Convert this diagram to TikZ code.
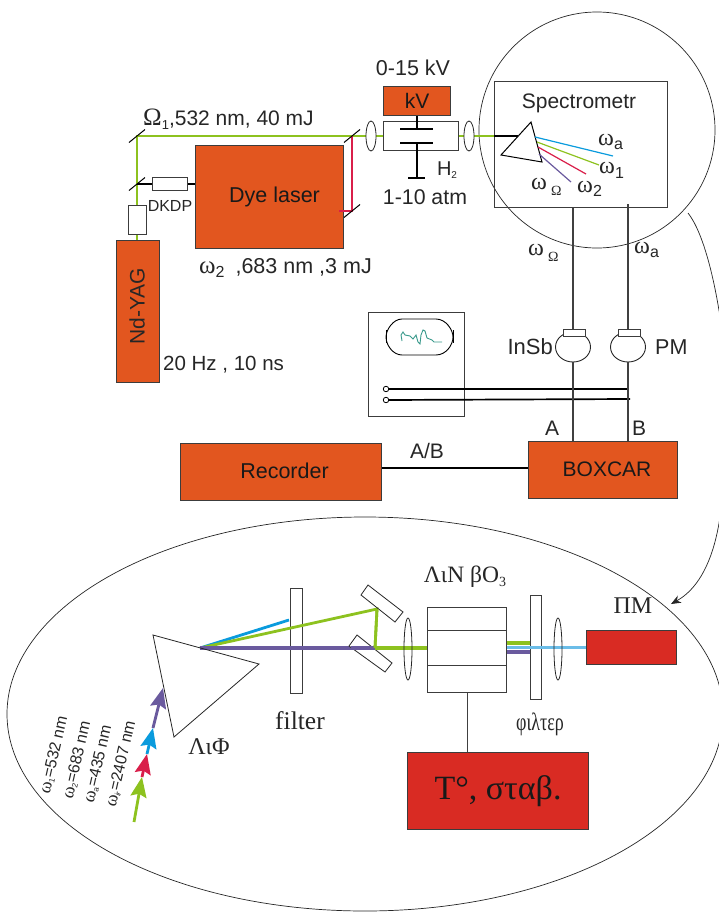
\documentclass[tikz,border=0pt]{standalone}
\usepackage{fontspec}
\setmainfont{Liberation Sans}
\newfontfamily\gk{Liberation Serif}
\newfontfamily\sansf{Liberation Sans}
\usetikzlibrary{shapes.geometric,arrows.meta,calc}
\definecolor{orangeb}{HTML}{E2561F}
\definecolor{redb}{HTML}{D92B23}
\definecolor{beamgreen}{HTML}{8DC21F}
\definecolor{beamblue}{HTML}{0A9BDD}
\definecolor{beamlight}{HTML}{6BBDE8}
\definecolor{beamred}{HTML}{D91F4A}
\definecolor{beampurple}{HTML}{6A5A9E}
\definecolor{edgegray}{HTML}{3C3C3C}
\definecolor{trace}{HTML}{3A9A8C}
\newcommand{\fs}[1]{\fontsize{#1}{#1}\selectfont}
\tikzset{
  box/.style={draw=edgegray,line width=1pt,inner sep=0pt,anchor=north west},
  obox/.style={box,fill=orangeb,text=black!90},
  rbox/.style={box,fill=redb,text=black!90},
  lens/.style={draw=black!85,ellipse,inner sep=0pt,line width=0.8pt},
  txt/.style={inner sep=0pt,text=black!85},
  wire/.style={draw=black!75,line width=1.3pt},
  thick wire/.style={draw=black,line width=1.7pt},
  mirror/.style={draw=black,line width=1pt},
  thin part/.style={draw=black!85,line width=0.7pt},
  head/.style={-{Stealth[length=20pt,width=16pt,inset=3pt]},line width=2.8pt},
  serif/.style={txt,font=\gk},
  lowbeam/.style={line width=2.8pt},
  flatbeam/.style={line width=3.3pt}
}
\begin{document}
\begin{tikzpicture}[x=1pt,y=-1pt]
\clip (0,0) rectangle (719,913);
% outlines
\draw[thin part] (597,130) circle [radius=118];
\draw[thin part] (365,714) ellipse [x radius=358,y radius=197];
\coordinate (a1) at (688,213);
\coordinate (a3) at (671,604);
\draw[thin part] (a1) .. controls (703,232) and (716,280) .. (724,345);
\draw[thin part,-{Stealth[length=10pt,width=8pt]}] (722,500) .. controls (718,545) and (705,585) .. (a3);

% --- upper boxes
\coordinate (m1) at (137,136);
\coordinate (m2) at (137,184);
\coordinate (m3) at (352,136);
\coordinate (m4) at (352,211);
\coordinate (r1) at (339,211);
\node[obox,minimum width=43pt,minimum height=142pt] (yag) at (116,240) {};
\node[txt,rotate=90,font=\fs{21}] at (137,306) {Nd-YAG};
\node[obox,minimum width=148pt,minimum height=103pt,font=\fs{21.5}] (dye) at (195,145) {\hspace{10pt}\raisebox{3pt}{Dye laser}};
\node[box,minimum width=75pt,minimum height=29pt] (cell) at (383,121) {};
\node[obox,minimum width=67pt,minimum height=29pt,font=\fs{21}] (kv) at (383,86) {kV};
\node[box,minimum width=173pt,minimum height=126pt] (spec) at (494,81) {};
\coordinate (prin) at (518,136);

\draw[beamgreen,line width=1.3pt] (yag.north -| m1) -- (m1) -- (m3) -- (cell.west |- m3);
\draw[beamgreen,line width=1.3pt] (cell.east |- m3) -- (spec.west |- m3);
\node[box,fill=white,minimum width=18pt,minimum height=29pt] (yagc) at (128,205) {};
\node[box,fill=white,minimum width=35pt,minimum height=13pt] (dkdp) at (152,177) {};
\node[txt,font=\fs{16}] at (170,206) {DKDP};
\node[lens,fill=white,minimum width=10pt,minimum height=30pt] (l1) at (371,136) {};
\node[lens,fill=white,minimum width=10pt,minimum height=30pt] (l2) at (469,136) {};
\draw[thick wire] (spec.west |- prin) -- (prin);
\draw[beamred,line width=1.5pt] (m3) -- (m4) -- (r1);
\draw[thick wire] (m2) -- (dkdp.west);
\draw[thick wire,line width=1.2pt] (dkdp.east) -- (dye.west |- dkdp.east);
\foreach \m in {m1,m2,m3,m4}{
  \draw[mirror] ($(\m)+(-8,6.5)$) -- ($(\m)+(8,-6.5)$);
}
% capacitor
\coordinate (c1) at (417,129);
\coordinate (c2) at (417,143);
\coordinate (c3) at (417,178);
\draw[thick wire,line width=1.4pt] (400,129) -- (433,129);
\draw[thick wire,line width=1.4pt] (400,143) -- (433,143);
\draw[thick wire,line width=1.4pt] (kv.south -| c1) -- (c1);
\draw[thick wire,line width=1.4pt] (c2) -- (c3);
\draw[thick wire,line width=1.4pt] (408,178) -- (425,178);
\node[txt,font=\fs{21.5}] at (413,68) {0-15 kV};
\node[txt,font=\fs{20}] at (447,170) {H\raisebox{-3pt}{\fs{10}2}};
\node[txt,font=\fs{21.3}] at (425,197) {1-10 atm};
\node[txt,anchor=west,font=\fs{21}] at (143,119) {{\gk\fs{25}Ω}\raisebox{-4pt}{\fs{13}1},532 nm, 40 mJ};
\node[txt,anchor=west,font=\fs{21.5}] at (199,268) {{\gk\fs{25}ω}\raisebox{-4pt}{\fs{16}2}\hspace{11pt},683 nm ,3 mJ};
\node[txt,anchor=west,font=\fs{20.5}] at (163,365) {20 Hz , 10 ns};

% spectrometer
\node[txt,font=\fs{21}] at (579,103) {Spectrometr};
\coordinate (p1) at (531,122);
\coordinate (p2) at (501,155);
\coordinate (p3) at (542,162);
\draw[mirror,fill=white] (p1) -- (p2) -- (p3) -- cycle;
\draw[beamblue,line width=1.2pt] (535,137) -- (613,156);
\draw[beamgreen,line width=1.2pt] (537,142) -- (599,165);
\draw[beamred,line width=1.2pt] (538,147) -- (586,174);
\draw[beampurple,line width=1.2pt] (539,154) -- (571,182);
\node[serif,anchor=west,font=\gk\fs{24}] at (598,142) {ω\raisebox{-4pt}{\fs{16}\sansf a}};
\node[serif,anchor=west,font=\gk\fs{24}] at (599,170) {ω\raisebox{-5pt}{\fs{16}\sansf 1}};
\node[serif,anchor=west,font=\gk\fs{24}] at (577,189) {ω\raisebox{-4pt}{\fs{16}\sansf 2}};
\node[serif,anchor=west,font=\gk\fs{24}] at (531,187) {ω\hspace{4pt}\raisebox{-6pt}{\fs{14}Ω}};
\node[serif,anchor=west,font=\gk\fs{24}] at (528,253) {ω\hspace{4pt}\raisebox{-6pt}{\fs{14}Ω}};
\node[serif,anchor=west,font=\gk\fs{24}] at (634,250) {ω\raisebox{-4pt}{\fs{16}\sansf a}};

% detectors
\node[obox,minimum width=149pt,minimum height=57pt,font=\fs{21}] (boxcar) at (528,441) {\hspace{8pt}\raisebox{1pt}{BOXCAR}};
\node[obox,minimum width=201pt,minimum height=57pt,font=\fs{21.5}] (rec) at (180,443) {\hspace{7pt}\raisebox{2pt}{Recorder}};
\node[draw=black!85,line width=0.9pt,ellipse,fill=white,minimum width=35pt,minimum height=30pt,inner sep=0pt] (insb) at (573,347) {};
\node[draw=black!85,line width=0.9pt,ellipse,fill=white,minimum width=35pt,minimum height=30pt,inner sep=0pt] (pm) at (628,347) {};
\node[box,fill=white,minimum width=22pt,minimum height=7pt] (insbw) at (563,329) {};
\node[box,fill=white,minimum width=22pt,minimum height=7pt] (pmw) at (618,329) {};
\draw[wire] (spec.south -| insb) -- (insbw.north -| insb);
\draw[wire] (628,204) -- (pmw.north -| 628,0);
\node[box,minimum width=96pt,minimum height=104pt] (scope) at (368,312) {};
\node[draw=black,line width=0.8pt,minimum width=5.5pt,circle,inner sep=0pt] (o1) at (386,389) {};
\node[draw=black,line width=0.8pt,minimum width=5.5pt,circle,inner sep=0pt] (o2) at (386,400) {};
\coordinate (t1) at (628,389);
\coordinate (t2) at (630,399);
\draw[thick wire] (o1) -- (t1);
\draw[thick wire] (o2) -- (t2);
\draw[wire] (insb.south) -- (insb.south |- boxcar.north);
\draw[wire] (pm.south) -- (pm.south |- boxcar.north);
\draw[thick wire] (rec.east |- 0,468) -- (boxcar.west |- 0,468);
\node[txt,font=\fs{21}] at (427,451) {A/B};
\node[txt,font=\fs{21}] at (552,428) {A};
\node[txt,font=\fs{21}] at (639,428) {B};
\node[txt,anchor=east,font=\fs{22}] at (553,347) {InSb};
\node[txt,anchor=west,font=\fs{21.5}] at (655,347) {PM};
% oscilloscope screen
\draw[black,line width=0.9pt] (402,319) -- (436,319) .. controls (446,319) and (453,330) .. (453,337) .. controls (453,345) and (446,355) .. (436,355) -- (402,355) .. controls (393,355) and (386,345) .. (386,337) .. controls (386,330) and (393,319) .. (402,319) -- cycle;
\draw[black,line width=1pt] (386,330) -- (386,343);
\draw[black,line width=1pt] (453,330) -- (453,343);
\draw[trace,line width=0.9pt] (402,341) -- (401,335) -- (403,332) -- (405,335) -- (410,336) -- (413,339) -- (416,335) -- (418,342) -- (420,344) -- (421,335) -- (423,330) -- (425,331) -- (427,338) -- (432,340) -- (434,342) -- (436,342) -- (442,342);

% --- lower part
\coordinate (b0) at (200,648);
\coordinate (bm1) at (377,609);
\coordinate (bm2) at (375,648);
\node[box,line width=0.9pt,minimum width=79pt,minimum height=85pt] (cr) at (427,607) {};
\node[box,line width=0.9pt,minimum width=79pt,minimum height=35pt] (cri) at (427,630) {};
\node[box,line width=0.9pt,minimum width=12pt,minimum height=105pt] (f1) at (290,588) {};
\node[box,line width=0.9pt,minimum width=11pt,minimum height=104pt] (f2) at (530,595) {};
\node[rbox,minimum width=90pt,minimum height=34pt] (pmr) at (586,630) {};
\node[rbox,minimum width=181pt,minimum height=77pt,font=\gk\fs{34}] (tb) at (407,752) {T°, σταβ.};
\draw[wire,line width=0.9pt] (cr.south -| 467,0) -- (tb.north -| 467,0);

\coordinate (bb) at (289,620);
\draw[beamblue,lowbeam] (b0) -- (bb);
\draw[beamgreen,lowbeam] (b0) -- (bm1) -- (bm2);
\draw[beampurple,flatbeam] (b0) -- (bm2);
\draw[beamgreen,flatbeam] (cri.east |- 0,643) -- (f2.west |- 0,643);
\draw[beampurple,flatbeam] (cri.east |- 0,652) -- (f2.west |- 0,652);
\draw[beamlight,flatbeam] (cri.east |- 0,647.5) -- (pmr.west |- 0,647.5);

\coordinate (q1) at (153,635);
\coordinate (q2) at (259,664);
\coordinate (q3) at (174,737);
\draw[thin part,line width=0.8pt] (q1) -- (q2) -- (q3) -- cycle;
\draw[thin part,line width=0.8pt] (368,585) -- (403,612) -- (395,622) -- (361,595) -- cycle;
\draw[thin part,line width=0.8pt,fill=white] (357,635) -- (392,663) -- (385,672) -- (349,646) -- cycle;
\draw[beampurple,flatbeam] (351,648) -- (bm2);
\draw[beamgreen,lowbeam] (bm1) -- (bm2);
\draw[beamgreen,flatbeam] (bm2) -- (cri.west |- bm2);
\node[lens,minimum width=8pt,minimum height=62pt] (l3) at (408,649) {};
\node[lens,minimum width=8pt,minimum height=62pt] (l4) at (558,649) {};
\node[serif,font=\gk\fs{25.5}] at (300,721) {filter};
\node[serif,font=\gk\fs{24}] at (209,747) {ΛιΦ};
\node[serif,font=\gk\fs{23.5}] at (465,577) {ΛιΝ βΟ\raisebox{-4pt}{\fs{14}3}};
\node[serif,font=\gk\fs{24}] at (633,606) {ΠΜ};
\node[serif,font=\gk\fs{25},xscale=0.72] at (540,724) {φιλτερ};

% incoming arrows
\coordinate (s0) at (134,822);
\coordinate (s1) at (142,777);
\coordinate (s2) at (147,754);
\coordinate (s3) at (153,728);
\coordinate (s4) at (163,688);
\draw[head,beampurple] (s3) -- (s4);
\draw[head,beamblue] (s2) -- (s3);
\draw[head,beamred] (s1) -- (s2);
\draw[head,beamgreen] (s0) -- (s1);

\node[txt,rotate=77,font=\fs{16}] at (54,755) {{\gk\fs{18}ω}\raisebox{-2pt}{\fs{8}1}=532 nm};
\node[txt,rotate=77,font=\fs{16}] at (77,760) {{\gk\fs{18}ω}\raisebox{-2pt}{\fs{8}2}=683 nm};
\node[txt,rotate=77,font=\fs{16}] at (98,764) {{\gk\fs{18}ω}\raisebox{-2pt}{\fs{8}a}=435 nm};
\node[txt,rotate=77,font=\fs{16}] at (121,764) {{\gk\fs{18}ω}\raisebox{-2pt}{\fs{8}\textit{ir}}=2407 nm};
\end{tikzpicture}
\end{document}
